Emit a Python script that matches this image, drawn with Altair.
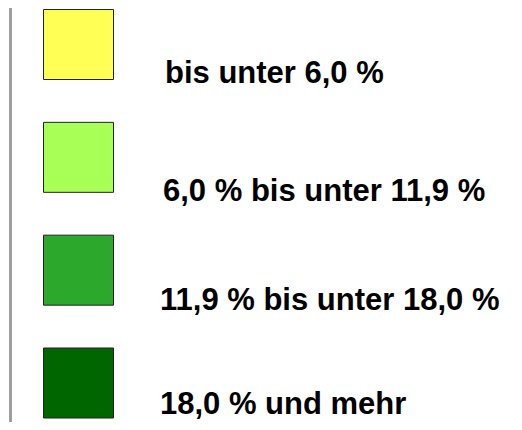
import altair as alt
import pandas as pd

labels = [
    "bis unter 6,0 %",
    "6,0 % bis unter 11,9 %",
    "11,9 % bis unter 18,0 %",
    "18,0 % und mehr",
]
colors = ["#FFFF55", "#A8FF55", "#2CA82C", "#006600"]
idx = [0, 1, 2, 3]

df = pd.DataFrame({"idx": idx, "label": labels, "color": colors})

base = alt.Chart(df)

vline = base.mark_rule(color="#9a9a9a", strokeWidth=2).encode(
    x=alt.value(2.5), y=alt.value(-10), y2=alt.value(440)
)

squares = base.mark_square(size=4900, opacity=1, stroke="#222222", strokeWidth=1).encode(
    x=alt.value(70.5),
    y=alt.Y("idx:Q", axis=None, scale=alt.Scale(domain=[0, 3], range=[36.5, 375])),
    fill=alt.Color("color:N", scale=None, legend=None),
)

texts = base.mark_text(
    align="left", baseline="alphabetic", font="Liberation Sans", fontWeight="bold",
    fontSize=31, color="#000000"
).encode(
    x=alt.X("idx:Q", axis=None, scale=alt.Scale(domain=[0, 1, 2, 3], range=[157, 155, 152, 152])),
    y=alt.Y("idx:Q", axis=None, scale=alt.Scale(domain=[0, 1, 2, 3], range=[75, 193, 302, 406])),
    text="label:N",
)

chart = alt.layer(vline, squares, texts).resolve_scale(x="independent", y="independent").properties(
    width=506, height=414, padding=0, autosize="none", background="white"
).configure_view(stroke=None)

chart.save("out.html", embed_options={"renderer": "svg", "actions": False})
